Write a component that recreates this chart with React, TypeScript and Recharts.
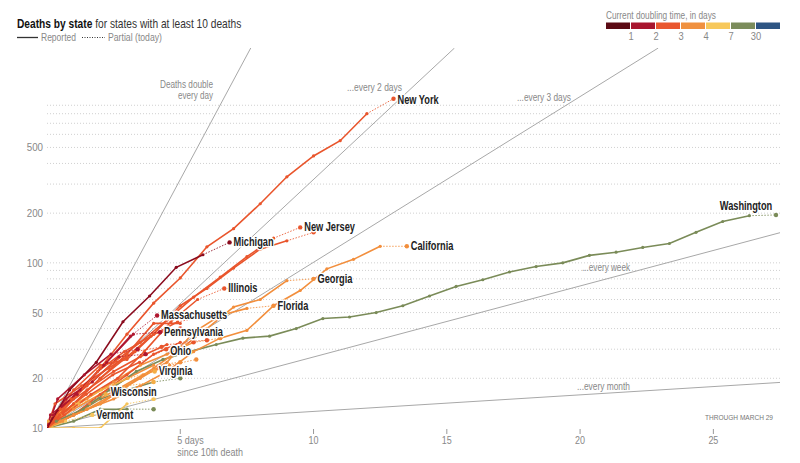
import React from 'react';
import { LineChart, Line, XAxis, YAxis, ReferenceLine, LabelList } from 'recharts';

const FONT = '"Liberation Sans", Arial, sans-serif';

// palette (doubling-time colours)
const MAROON = '#8a0b1e';
const CRIMSON = '#b0172f';
const RED_ORANGE = '#e9552c';
const ORANGE = '#f28e3c';
const YELLOW_ORANGE = '#f4ad45';
const YELLOW = '#f6c45a';
const GREEN = '#7a8b58';

const legendColors = ['#5b0a14', '#a8152e', '#e9572f', '#f0913f', '#f7c85b', '#7b8c5b', '#2e5583'];
const legendTicks = ['1', '2', '3', '4', '7', '30'];

const xTicks = [5, 10, 15, 20, 25];
const yTicks = [10, 20, 50, 100, 200, 500];
const gridValues = [20, 30, 40, 50, 60, 70, 80, 90, 100, 200, 300, 400, 500, 600, 700, 800, 900];
const doublingDays = [1, 2, 3, 7, 30];

// deaths since 10th death (first value at day 0, then daily from firstDay)
const newYork = [10, 15, 23, 37, 57, 81, 125, 161, 228, 332, 444, 549, 800];
const michigan = [10, 17, 25, 44, 63, 94, 112];
const newJersey = [10, 13, 18, 25, 33, 45, 62, 82, 109, 141];
const louisiana = [10, 14, 20, 27, 37, 55, 70, 93, 121, 136];
const california = [10, 11, 13, 15, 18, 22, 29, 35, 39, 55, 68, 92, 105, 126];
const illinois = [10, 12, 16, 20, 29, 44, 60];
const georgia = [10, 12, 14, 18, 23, 30, 40, 54, 60, 78];
const florida = [10, 11, 13, 16, 20, 25, 38, 48, 53];
const massachusetts = [10, 12, 16, 24, 36];
const pennsylvania = [10, 12, 17, 25, 37];
const ohio = [10, 12, 16, 21, 25];
const virginia = [10, 11, 14, 17, 20];
const wisconsin = [10, 12, 14];
const vermont = [10, 11];
const washington = [10, 11, 13, 17, 22, 26, 29, 32, 35, 36, 40, 46, 47, 50, 55, 63, 72, 79, 88, 95, 100, 111, 116, 124, 131, 153, 178, 193];
const colorado = [10, 13, 17, 22, 27, 32];
const indiana = [10, 12, 16, 21, 28, 33];
const connecticut = [10, 14, 20, 28, 43, 43];
const oregon = [10, 11, 13, 13];
const kentucky = [10, 12, 15, 17, 19];
const idaho = [10, 10, 10, 14];
const texas = [10, 12, 15, 19, 24, 28, 33];
const arizona = [10, 13, 16, 20, 24];
const maryland = [10, 15, 19, 27];
const tennessee = [10, 17, 24, 26, 37];
const oklahoma = [10, 14, 18, 23, 29];
const southCarolina = [10, 11, 14, 17, 21, 24];
const nevada = [10, 12, 14, 18];
const mississippi = [10, 15, 21, 28];
const missouri = [10, 15, 22, 29, 36, 44];

// partial (today) values
const todayValues: Record<string, number> = {
  'New York': 986, Michigan: 133, 'New Jersey': 164, Louisiana: 153, California: 126,
  Illinois: 70, Georgia: 80, Florida: 55, Massachusetts: 48, Pennsylvania: 38, Ohio: 30,
  Virginia: 22, Wisconsin: 16, Vermont: 12, Washington: 195, Colorado: 33, Indiana: 34,
  Oregon: 13, Kentucky: 20, Idaho: 15, Texas: 35, Arizona: 25, Maryland: 28, Tennessee: 40,
  Oklahoma: 31, 'South Carolina': 26, Nevada: 19, Mississippi: 30, Missouri: 47,
};

type State = {
  name: string; values: number[]; firstDay: number; color: string;
  label?: boolean; dx?: number; dy?: number; anchor?: 'start' | 'middle' | 'end';
};

const states: State[] = [
  { name: 'Oregon', values: oregon, firstDay: 1, color: GREEN },
  { name: 'Kentucky', values: kentucky, firstDay: 1, color: GREEN },
  { name: 'Idaho', values: idaho, firstDay: 1, color: YELLOW },
  { name: 'Nevada', values: nevada, firstDay: 1, color: YELLOW_ORANGE },
  { name: 'Arizona', values: arizona, firstDay: 1, color: ORANGE },
  { name: 'South Carolina', values: southCarolina, firstDay: 0.6, color: ORANGE },
  { name: 'Texas', values: texas, firstDay: 0.5, color: ORANGE },
  { name: 'Colorado', values: colorado, firstDay: 0.5, color: RED_ORANGE },
  { name: 'Indiana', values: indiana, firstDay: 1, color: RED_ORANGE },
  { name: 'Connecticut', values: connecticut, firstDay: 1, color: RED_ORANGE },
  { name: 'Oklahoma', values: oklahoma, firstDay: 0.3, color: RED_ORANGE },
  { name: 'Tennessee', values: tennessee, firstDay: 1, color: RED_ORANGE },
  { name: 'Missouri', values: missouri, firstDay: 0.9, color: RED_ORANGE },
  { name: 'Maryland', values: maryland, firstDay: 0.7, color: CRIMSON },
  { name: 'Mississippi', values: mississippi, firstDay: 0.4, color: CRIMSON },
  { name: 'Washington', values: washington, firstDay: 0.35, color: GREEN, label: true, dx: -30, dy: -5, anchor: 'middle' },
  { name: 'Vermont', values: vermont, firstDay: 0.7, color: YELLOW, label: true },
  { name: 'Wisconsin', values: wisconsin, firstDay: 0.2, color: YELLOW_ORANGE, label: true, dx: 5, dy: 2 },
  { name: 'Virginia', values: virginia, firstDay: 0.04, color: YELLOW_ORANGE, label: true },
  { name: 'Florida', values: florida, firstDay: 0.5, color: ORANGE, label: true },
  { name: 'Georgia', values: georgia, firstDay: 1, color: ORANGE, label: true },
  { name: 'California', values: california, firstDay: 0.5, color: ORANGE, label: true },
  { name: 'Ohio', values: ohio, firstDay: 0.47, color: RED_ORANGE, label: true, dy: 6 },
  { name: 'Illinois', values: illinois, firstDay: 0.65, color: RED_ORANGE, label: true },
  { name: 'Louisiana', values: louisiana, firstDay: 1, color: RED_ORANGE },
  { name: 'New Jersey', values: newJersey, firstDay: 0.5, color: RED_ORANGE, label: true },
  { name: 'Pennsylvania', values: pennsylvania, firstDay: 0.24, color: CRIMSON, label: true },
  { name: 'Massachusetts', values: massachusetts, firstDay: 0.13, color: CRIMSON, label: true },
  { name: 'New York', values: newYork, firstDay: 1, color: RED_ORANGE, label: true, dy: 5 },
  { name: 'Michigan', values: michigan, firstDay: 0.85, color: MAROON, label: true },
];

const toPoints = (s: State) =>
  s.values.map((v, i) => ({ x: i === 0 ? 0 : s.firstDay + i - 1, y: v }));

const partialPoints = (s: State) => {
  const pts = toPoints(s);
  const last = pts[pts.length - 1];
  return [last, { x: last.x + 1, y: todayValues[s.name] }];
};

const X_MAX = 27.5;
const Y_MIN = 10;
const Y_MAX = 2000;

const doublingLine = (T: number) => {
  const dEnd = Math.min(X_MAX, T * Math.log2(Y_MAX / Y_MIN));
  return [{ x: 0, y: Y_MIN }, { x: dEnd, y: Y_MIN * Math.pow(2, dEnd / T) }];
};

const gray = '#888';

// condensed text (horizontally scaled about its anchor)
const CText = (props: any) => {
  const { x, y, sx = 0.78, anchor = 'start', children, ...rest } = props;
  return (
    <text transform={`translate(${x},${y}) scale(${sx},1)`} textAnchor={anchor} fontFamily={FONT} {...rest}>
      {children}
    </text>
  );
};

// text fitted to a measured width
const FText = (props: any) => {
  const { w, children, ...rest } = props;
  return (
    <text textLength={w} lengthAdjust="spacingAndGlyphs" fontFamily={FONT} {...rest}>
      {children}
    </text>
  );
};

const XTick = (props: any) => {
  const { x, y, payload } = props;
  const v = payload.value;
  return (
    <g>
      <line x1={x} x2={x} y1={y + 1} y2={y + 6} stroke="#999" strokeWidth={1} />
      {v === 5 ? (
        <g>
          <CText x={x - 3} y={y + 16} fill={gray} fontSize={11.5}>5 days</CText>
          <CText x={x - 3} y={y + 28} fill={gray} fontSize={11.5}>since 10th death</CText>
        </g>
      ) : (
        <CText x={x} y={y + 16} anchor="middle" fill={gray} fontSize={11.5}>{v}</CText>
      )}
    </g>
  );
};

const YTick = (props: any) => {
  const { x, y, payload } = props;
  return (
    <CText x={x} y={y + 4} anchor="end" sx={0.85} fill={gray} fontSize={11.5}>{payload.value}</CText>
  );
};

const makeLabel = (s: State) => (props: any) => {
  const { x, y, index } = props;
  if (index !== 1) return <g />;
  return (
    <CText
      x={x + (s.dx ?? 4)}
      y={y + (s.dy ?? 4)}
      anchor={s.anchor ?? 'start'}
      sx={0.77}
      fontWeight="bold"
      fontSize={12}
      fill="#222"
      stroke="#fff"
      strokeWidth={3}
      strokeLinejoin="round"
      style={{ paintOrder: 'stroke' }}
    >
      {s.name}
    </CText>
  );
};

export default function App() {
  return (
    <div style={{ position: 'absolute', left: 0, top: 0, width: 800, height: 463, background: '#fff' }}>
      <LineChart width={800} height={463} margin={{ top: 48, right: 20, bottom: 5, left: 0 }}>
        <XAxis
          type="number"
          dataKey="x"
          domain={[0, X_MAX]}
          ticks={xTicks}
          axisLine={false}
          tickLine={false}
          tickSize={0}
          tickMargin={0}
          height={30}
          allowDataOverflow
          tick={<XTick />}
        />
        <YAxis
          type="number"
          dataKey="y"
          scale="log"
          domain={[Y_MIN, Y_MAX]}
          ticks={yTicks}
          axisLine={false}
          tickLine={false}
          tickSize={0}
          tickMargin={4}
          width={47}
          allowDataOverflow
          tick={<YTick />}
        />
        {gridValues.map((g) => (
          <ReferenceLine key={'g' + g} y={g} stroke="#d0d0d0" strokeDasharray="1 2" />
        ))}
        {doublingDays.map((T) => (
          <Line
            key={'d' + T}
            data={doublingLine(T)}
            dataKey="y"
            stroke="#a8a8a8"
            strokeWidth={1}
            dot={false}
            activeDot={false}
            isAnimationActive={false}
          />
        ))}
        {states.map((s) => (
          <Line
            key={'s' + s.name}
            data={toPoints(s)}
            dataKey="y"
            stroke={s.color}
            strokeWidth={1.6}
            dot={{ r: 1.6, fill: s.color, stroke: 'none', strokeWidth: 0 }}
            activeDot={false}
            isAnimationActive={false}
          />
        ))}
        {states.map((s) => (
          <Line
            key={'p' + s.name}
            data={partialPoints(s)}
            dataKey="y"
            stroke={s.color}
            strokeWidth={1}
            strokeDasharray="1.5 1.5"
            strokeOpacity={0.85}
            dot={(p: any) =>
              p.index === 1 ? (
                <circle key={p.key ?? 'pd' + s.name} cx={p.cx} cy={p.cy} r={2.2} fill={s.color} />
              ) : (
                <g key={p.key ?? 'pg' + s.name} />
              )
            }
            activeDot={false}
            isAnimationActive={false}
          >
            {s.label ? <LabelList dataKey="y" content={makeLabel(s)} /> : null}
          </Line>
        ))}
      </LineChart>
      <svg
        width={800}
        height={463}
        style={{ position: 'absolute', left: 0, top: 0, pointerEvents: 'none' }}
      >
        <CText x={17} y={27.5} sx={0.785} fontSize={13} fill="#333">
          <tspan fontWeight="bold" fill="#111">Deaths by state</tspan>
          <tspan> for states with at least 10 deaths</tspan>
        </CText>
        <line x1={17} x2={38} y1={37.5} y2={37.5} stroke="#333" strokeWidth={1.3} />
        <FText x={41} y={41} w={35} fontSize={10.5} fill={gray}>Reported</FText>
        <line x1={82} x2={105} y1={37.5} y2={37.5} stroke="#333" strokeWidth={1} strokeDasharray="1 1.5" />
        <FText x={108} y={41} w={54} fontSize={10.5} fill={gray}>Partial (today)</FText>

        <FText x={606} y={18.5} w={110} fontSize={10.5} fill={gray}>Current doubling time, in days</FText>
        {legendColors.map((c, i) => (
          <rect key={c} x={606 + i * 25} y={22.5} width={24} height={6.5} fill={c} />
        ))}
        {legendTicks.map((t, i) => (
          <CText key={t} x={631 + i * 25} y={40} sx={0.85} fontSize={11} fill={gray} anchor="middle">{t}</CText>
        ))}

        <FText x={160} y={88} w={53} fontSize={10.5} fill={gray}>Deaths double</FText>
        <FText x={178} y={99} w={35} fontSize={10.5} fill={gray}>every day</FText>
        <FText x={347} y={91} w={55} fontSize={10.5} fill={gray}>...every 2 days</FText>
        <FText x={517} y={101} w={54} fontSize={10.5} fill={gray}>...every 3 days</FText>
        <FText x={582} y={271} w={48} fontSize={10.5} fill={gray}>...every week</FText>
        <FText x={577} y={390} w={53} fontSize={10.5} fill={gray}>...every month</FText>
        <FText x={705} y={420} w={68} fontSize={8} fill="#777">THROUGH MARCH 29</FText>
      </svg>
    </div>
  );
}
